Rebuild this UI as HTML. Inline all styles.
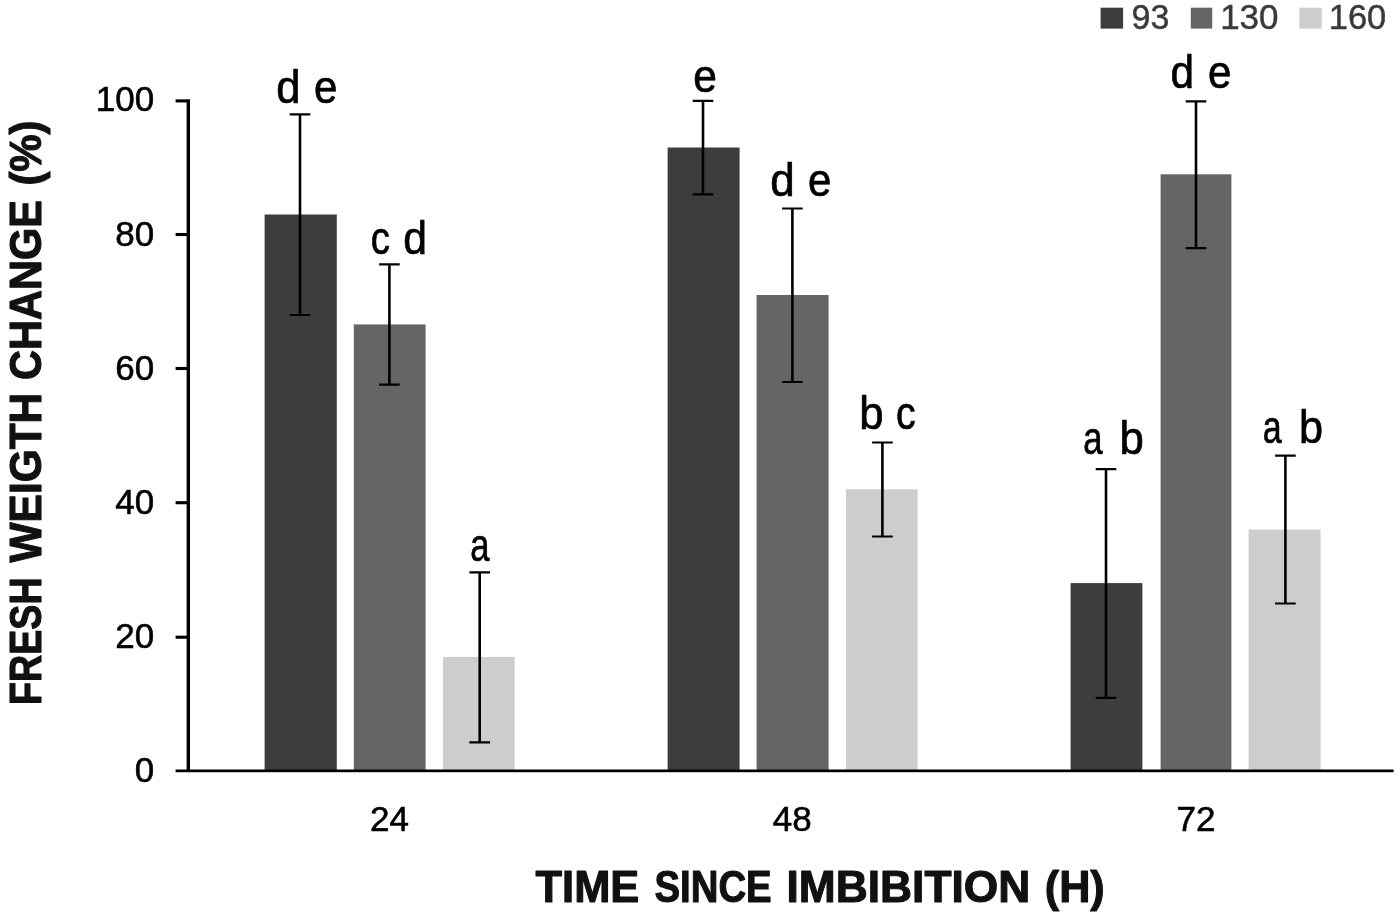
<!DOCTYPE html>
<html lang="en"><head><meta charset="utf-8"><title>Fresh weight change</title>
<style>
html,body{margin:0;padding:0;background:#fff;}
body{width:1400px;height:915px;overflow:hidden;}
svg{display:block;}
text{font-family:"Liberation Sans",Arial,Helvetica,sans-serif;fill:#000;}
.tick{font-size:35px;stroke:#000;stroke-width:0.55px;}
.lab{font-size:46.5px;stroke:#000;stroke-width:0.7px;}
.leg{font-size:34.6px;fill:#3a3a3a;stroke:#3a3a3a;stroke-width:0.45px;}
.ttl{font-size:44.8px;font-weight:bold;fill:#111;stroke:#111;stroke-width:1.1px;stroke-linejoin:round;}
</style></head><body>
<svg width="1400" height="915" viewBox="0 0 1400 915">
<rect x="0" y="0" width="1400" height="915" fill="#ffffff"/>
<rect x="264.6" y="214.5" width="72.2" height="556.3" fill="#3d3d3d"/>
<rect x="353.8" y="324.4" width="71.8" height="446.4" fill="#656565"/>
<rect x="443.0" y="656.9" width="71.6" height="113.9" fill="#cdcdcd"/>
<rect x="667.6" y="147.5" width="72.0" height="623.3" fill="#3d3d3d"/>
<rect x="756.6" y="295.0" width="72.0" height="475.8" fill="#656565"/>
<rect x="846.0" y="489.3" width="71.6" height="281.5" fill="#cdcdcd"/>
<rect x="1070.6" y="583.1" width="71.8" height="187.7" fill="#3d3d3d"/>
<rect x="1160.6" y="174.3" width="70.8" height="596.5" fill="#656565"/>
<rect x="1248.6" y="529.5" width="72.0" height="241.3" fill="#cdcdcd"/>
<rect x="186.6" y="99.3" width="3.4" height="672.8" fill="#000"/>
<rect x="175.6" y="769.5" width="1218.0" height="2.7" fill="#000"/>
<rect x="175.6" y="99.35" width="12" height="3.1" fill="#000"/>
<rect x="175.6" y="232.95" width="12" height="3.1" fill="#000"/>
<rect x="175.6" y="366.95" width="12" height="3.1" fill="#000"/>
<rect x="175.6" y="501.15" width="12" height="3.1" fill="#000"/>
<rect x="175.6" y="635.65" width="12" height="3.1" fill="#000"/>
<path d="M300.0 114.3V315.0" stroke="#000" stroke-width="2.6" fill="none"/>
<path d="M289.7 114.3H310.3M289.7 315.0H310.3" stroke="#000" stroke-width="2.2" fill="none"/>
<path d="M389.4 264.3V384.7" stroke="#000" stroke-width="2.6" fill="none"/>
<path d="M379.1 264.3H399.7M379.1 384.7H399.7" stroke="#000" stroke-width="2.2" fill="none"/>
<path d="M479.7 572.4V742.4" stroke="#000" stroke-width="2.6" fill="none"/>
<path d="M469.4 572.4H490.0M469.4 742.4H490.0" stroke="#000" stroke-width="2.2" fill="none"/>
<path d="M703.0 100.9V194.4" stroke="#000" stroke-width="2.6" fill="none"/>
<path d="M692.7 100.9H713.3M692.7 194.4H713.3" stroke="#000" stroke-width="2.2" fill="none"/>
<path d="M792.4 208.5V382.0" stroke="#000" stroke-width="2.6" fill="none"/>
<path d="M782.1 208.5H802.7M782.1 382.0H802.7" stroke="#000" stroke-width="2.2" fill="none"/>
<path d="M882.4 442.5V536.5" stroke="#000" stroke-width="2.6" fill="none"/>
<path d="M872.1 442.5H892.7M872.1 536.5H892.7" stroke="#000" stroke-width="2.2" fill="none"/>
<path d="M1106.0 469.1V697.8" stroke="#000" stroke-width="2.6" fill="none"/>
<path d="M1095.7 469.1H1116.3M1095.7 697.8H1116.3" stroke="#000" stroke-width="2.2" fill="none"/>
<path d="M1196.0 101.3V248.2" stroke="#000" stroke-width="2.6" fill="none"/>
<path d="M1185.7 101.3H1206.3M1185.7 248.2H1206.3" stroke="#000" stroke-width="2.2" fill="none"/>
<path d="M1285.4 455.7V603.5" stroke="#000" stroke-width="2.6" fill="none"/>
<path d="M1275.1 455.7H1295.7M1275.1 603.5H1295.7" stroke="#000" stroke-width="2.2" fill="none"/>
<text class="tick" x="154.2" y="781.70" text-anchor="end">0</text>
<text class="tick" x="154.2" y="647.95" text-anchor="end">20</text>
<text class="tick" x="154.2" y="514.45" text-anchor="end">40</text>
<text class="tick" x="154.2" y="380.00" text-anchor="end">60</text>
<text class="tick" x="154.2" y="246.05" text-anchor="end">80</text>
<text class="tick" x="154.2" y="111.40" text-anchor="end">100</text>
<text class="tick" x="389.4" y="831.3" text-anchor="middle">24</text>
<text class="tick" x="792.2" y="831.3" text-anchor="middle">48</text>
<text class="tick" x="1196.0" y="831.3" text-anchor="middle">72</text>
<g>
<text class="lab" transform="translate(276.34,103.3) scale(0.9359,1)">d</text>
<text class="lab" transform="translate(313.98,103.3) scale(0.9057,1)">e</text>
</g>
<g>
<text class="lab" transform="translate(370.70,253.7) scale(0.8258,1)">c</text>
<text class="lab" transform="translate(403.37,253.7) scale(0.9176,1)">d</text>
</g>
<g>
<text class="lab" transform="translate(470.22,561.1) scale(0.7448,1)">a</text>
</g>
<g>
<text class="lab" transform="translate(693.37,92.1) scale(0.9146,1)">e</text>
</g>
<g>
<text class="lab" transform="translate(770.33,196.3) scale(0.9451,1)">d</text>
<text class="lab" transform="translate(807.98,196.3) scale(0.9057,1)">e</text>
</g>
<g>
<text class="lab" transform="translate(859.17,428.7) scale(0.9397,1)">b</text>
<text class="lab" transform="translate(896.07,428.7) scale(0.8448,1)">c</text>
</g>
<g>
<text class="lab" transform="translate(1083.22,454.1) scale(0.7448,1)">a</text>
<text class="lab" transform="translate(1119.57,454.1) scale(0.9397,1)">b</text>
</g>
<g>
<text class="lab" transform="translate(1170.58,87.7) scale(0.9084,1)">d</text>
<text class="lab" transform="translate(1207.98,87.7) scale(0.9057,1)">e</text>
</g>
<g>
<text class="lab" transform="translate(1262.64,443.3) scale(0.7287,1)">a</text>
<text class="lab" transform="translate(1299.00,443.3) scale(0.9302,1)">b</text>
</g>
<g>
<text class="ttl" transform="translate(535.55,902.1) scale(0.9699,1)">TIME</text>
<text class="ttl" transform="translate(654.45,902.1) scale(0.8564,1)">SINCE</text>
<text class="ttl" transform="translate(786.53,902.1) scale(0.9897,1)">IMBIBITION</text>
<text class="ttl" transform="translate(1044.77,902.1) scale(0.9646,1)">(H)</text>
</g>
<g>
<text class="ttl" transform="translate(41.2,705.00) rotate(-90) scale(0.8406,1)">FRESH</text>
<text class="ttl" transform="translate(41.2,562.45) rotate(-90) scale(0.9471,1)">WEIGTH</text>
<text class="ttl" transform="translate(41.2,379.95) rotate(-90) scale(0.9266,1)">CHANGE</text>
<text class="ttl" transform="translate(41.2,185.61) rotate(-90) scale(0.9355,1)">(%)</text>
</g>
<rect x="1100.6" y="7.7" width="22.5" height="20.9" fill="#3d3d3d"/>
<rect x="1190.8" y="7.7" width="21.4" height="20.9" fill="#656565"/>
<rect x="1299.3" y="7.7" width="22.4" height="20.9" fill="#cdcdcd"/>
<text class="leg" transform="translate(1131.55,29.1) scale(0.9842,1)">93</text>
<text class="leg" transform="translate(1220.16,29.1) scale(1.0109,1)">130</text>
<text class="leg" transform="translate(1328.80,29.1) scale(0.9963,1)">160</text>
</svg>
</body></html>
